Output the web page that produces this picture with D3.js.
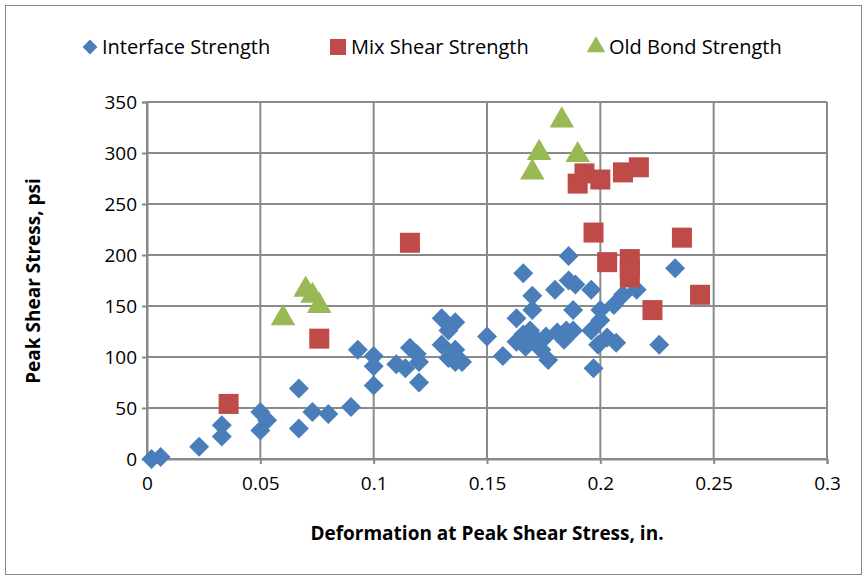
<!DOCTYPE html>
<html><head><meta charset="utf-8">
<script src="https://cdn.jsdelivr.net/npm/d3@7"></script>
<style>body{margin:0;background:#fff}svg{font-family:"Open Sans",sans-serif}</style>
</head><body><svg id="c" width="867" height="580"></svg>
<script>
const interfaceX = [0.002,0.006,0.023,0.033,0.033,0.050,0.050,0.053,0.067,0.067,0.073,0.080,0.090,0.093,0.100,0.100,0.100,0.110,0.114,0.116,0.119,0.120,0.120,0.130,0.130,0.133,0.136,0.133,0.136,0.136,0.139,0.150,0.157,0.163,0.163,0.166,0.166,0.167,0.169,0.170,0.170,0.172,0.174,0.176,0.177,0.180,0.181,0.184,0.186,0.186,0.185,0.188,0.189,0.188,0.196,0.196,0.197,0.199,0.200,0.200,0.203,0.206,0.207,0.210,0.216,0.233,0.226];
const interfaceY = [0,2,12,22,33,46,28,38,69,30,46,44,51,107,101,91,72,93,89,109,103,95,75,112,138,126,134,99,107,95,95,120,101,138,115,182,122,110,126,146,160,117,107,120,97,166,124,117,199,175,126,146,171,126,166,126,89,112,136,146,119,151,114,161,166,187,112];
const mixX = [0.036,0.076,0.116,0.190,0.193,0.200,0.210,0.217,0.197,0.203,0.213,0.213,0.213,0.223,0.236,0.244];
const mixY = [54,118,212,270,280,274,281,286,222,193,196,187,178,146,217,161];
const oldX = [0.183,0.173,0.170,0.190,0.060,0.070,0.073,0.076];
const oldY = [332,300,281,298,138,166,160,150];
const xTicks = [0,0.05,0.1,0.15,0.2,0.25,0.3];
const yTicks = [0,50,100,150,200,250,300,350];

const svg = d3.select('#c');
svg.append('rect').attr('x',5.5).attr('y',5.5).attr('width',856).attr('height',569)
  .attr('fill','#fff').attr('stroke','#868686');
const x = d3.scaleLinear().domain([0,0.3]).range([147,827]);
const y = d3.scaleLinear().domain([0,350]).range([459,102]);

// gridlines
svg.append('g').selectAll('line').data(yTicks).join('line')
  .attr('x1',147).attr('x2',827).attr('y1',d=>y(d)).attr('y2',d=>y(d))
  .attr('stroke','#8a8a8a').attr('stroke-width',2);
svg.append('g').selectAll('line').data(xTicks).join('line')
  .attr('y1',102).attr('y2',459).attr('x1',d=>x(d)).attr('x2',d=>x(d))
  .attr('stroke','#8a8a8a').attr('stroke-width',2);

const xa = svg.append('g').attr('transform','translate(0,459)')
  .call(d3.axisBottom(x).tickValues(xTicks).tickFormat(d3.format('')).tickSize(5));
const ya = svg.append('g').attr('transform','translate(147,0)')
  .call(d3.axisLeft(y).tickValues(yTicks).tickSize(5));
[xa,ya].forEach(a=>{a.select('.domain').attr('stroke','#8a8a8a').attr('stroke-width',2);
  a.selectAll('line').attr('stroke','#8a8a8a').attr('stroke-width',2);
  a.selectAll('text').attr('font-size',19).attr('fill','#000').attr('font-family','"Open Sans",sans-serif');});
xa.selectAll('text').attr('dy','1.2em');
ya.selectAll('text').attr('x',-10);

const dia = d3.symbol().type(d3.symbolSquare).size(200);
const g = svg.append('g');
g.selectAll('.i').data(interfaceX).join('path')
  .attr('d',dia).attr('fill','#4a7ebb')
  .attr('transform',(d,i)=>`translate(${x(d)},${y(interfaceY[i])}) rotate(45)`);
g.selectAll('.m').data(mixX).join('rect')
  .attr('x',d=>x(d)-10).attr('y',(d,i)=>y(mixY[i])-10).attr('width',20).attr('height',20)
  .attr('fill','#be4b48');
const tri = d3.symbol().type(d3.symbolTriangle).size(260);
g.selectAll('.o').data(oldX).join('path')
  .attr('d',tri).attr('fill','#98b954')
  .attr('transform',(d,i)=>`translate(${x(d)},${y(oldY[i])})`);

// legend
const leg = svg.append('g').attr('font-size',20);
const l1 = leg.append('g').attr('transform','translate(90,47)');
l1.append('path').attr('d',d3.symbol().type(d3.symbolSquare).size(110)).attr('transform','rotate(45)').attr('fill','#4a7ebb');
l1.append('text').attr('x',12).attr('dy','0.35em').text('Interface Strength');
const l2 = leg.append('g').attr('transform','translate(338,47)');
l2.append('rect').attr('x',-8).attr('y',-8).attr('width',16).attr('height',16).attr('fill','#be4b48');
l2.append('text').attr('x',13).attr('dy','0.35em').text('Mix Shear Strength');
const l3 = leg.append('g').attr('transform','translate(596,47)');
l3.append('path').attr('d',d3.symbol().type(d3.symbolTriangle).size(150)).attr('fill','#98b954');
l3.append('text').attr('x',13).attr('dy','0.35em').text('Old Bond Strength');

svg.append('text').attr('x',487).attr('y',540).attr('text-anchor','middle')
  .attr('font-weight','bold').attr('font-size',19).text('Deformation at Peak Shear Stress, in.');
svg.append('text').attr('transform','translate(40,281) rotate(-90)').attr('text-anchor','middle')
  .attr('font-weight','bold').attr('font-size',19).text('Peak Shear Stress, psi');
</script></body></html>
